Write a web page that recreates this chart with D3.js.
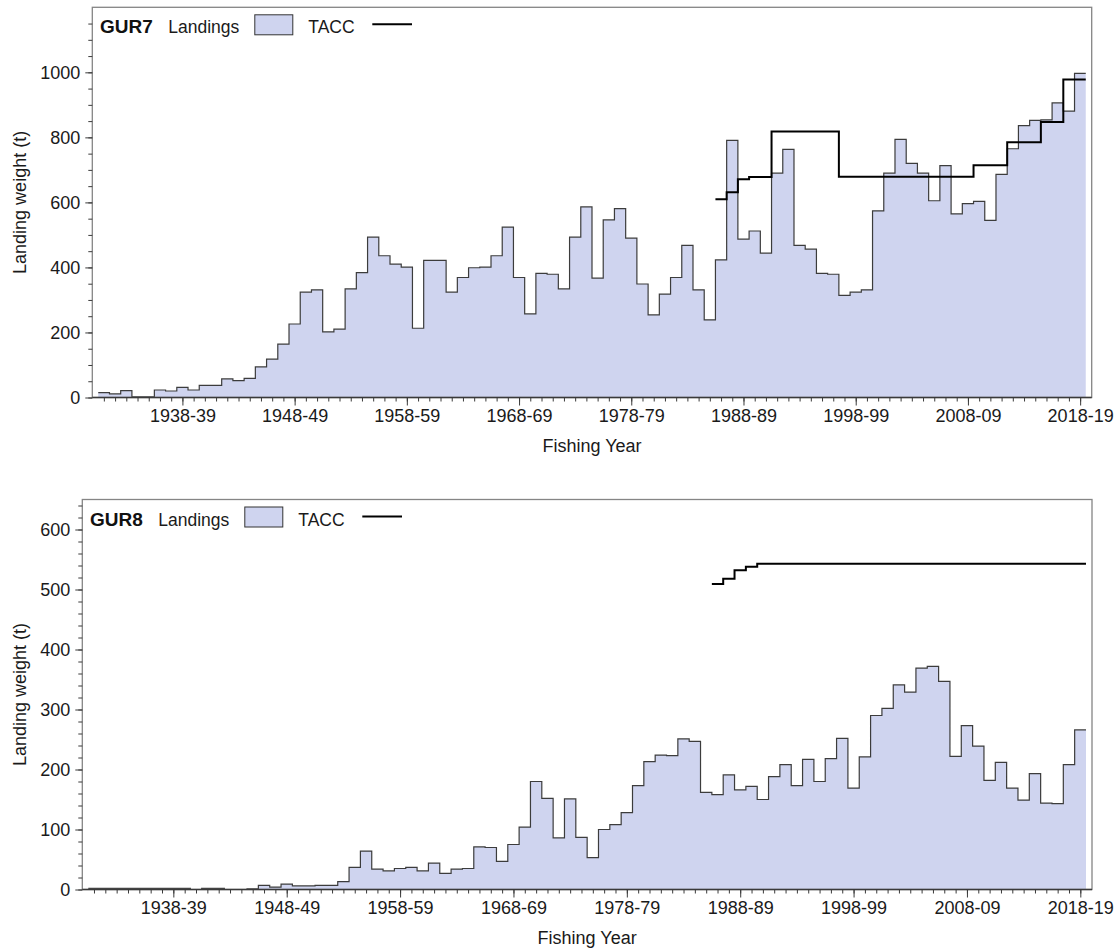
<!DOCTYPE html>
<html><head><meta charset="utf-8">
<script src="https://cdn.jsdelivr.net/npm/d3@7"></script>
<style>
body{margin:0;background:#fff;}
svg{display:block;font-family:"Liberation Sans",Arial,sans-serif;}
</style></head><body>
<svg id="chart" width="1117" height="949"></svg>
<script>
// ---------------- DATA ----------------
const fishingYears = [
"1931-32","1932-33","1933-34","1934-35","1935-36","1936-37","1937-38","1938-39","1939-40","1940-41",
"1941-42","1942-43","1943-44","1944-45","1945-46","1946-47","1947-48","1948-49","1949-50","1950-51",
"1951-52","1952-53","1953-54","1954-55","1955-56","1956-57","1957-58","1958-59","1959-60","1960-61",
"1961-62","1962-63","1963-64","1964-65","1965-66","1966-67","1967-68","1968-69","1969-70","1970-71",
"1971-72","1972-73","1973-74","1974-75","1975-76","1976-77","1977-78","1978-79","1979-80","1980-81",
"1981-82","1982-83","1983-84","1984-85","1985-86","1986-87","1987-88","1988-89","1989-90","1990-91",
"1991-92","1992-93","1993-94","1994-95","1995-96","1996-97","1997-98","1998-99","1999-00","2000-01",
"2001-02","2002-03","2003-04","2004-05","2005-06","2006-07","2007-08","2008-09","2009-10","2010-11",
"2011-12","2012-13","2013-14","2014-15","2015-16","2016-17","2017-18","2018-19"];

const gur7Landings = [
15, 11, 21, 2, 2, 23, 20, 31, 23, 37,
37, 57, 52, 59, 94, 118, 164, 226, 324, 331,
202, 210, 334, 384, 493, 436, 410, 401, 213, 422,
422, 324, 369, 399, 401, 436, 524, 369, 257, 382,
379, 334, 493, 586, 367, 546, 581, 490, 349, 254,
318, 369, 468, 331, 239, 423, 791, 487, 512, 444,
690, 763, 468, 456, 382, 379, 314, 324, 331, 574,
690, 794, 720, 690, 605, 713, 565, 596, 603, 545,
686, 765, 836, 852, 854, 906, 881, 997];

const gur8Landings = [
2, 2, 2, 2, 2, 2, 2, 2, 2, 0,
2, 2, 0, 0, 1, 7, 4, 9, 6, 6,
7, 7, 13, 37, 64, 34, 31, 35, 37, 31,
44, 27, 34, 35, 71, 70, 47, 75, 104, 180,
152, 86, 151, 87, 53, 100, 108, 128, 173, 213,
224, 223, 251, 247, 162, 158, 191, 166, 172, 150,
188, 208, 173, 217, 180, 218, 252, 169, 221, 290,
302, 341, 329, 369, 372, 347, 222, 273, 239, 182,
212, 169, 149, 193, 144, 143, 208, 266];

const taccYears = [
"1986-87","1987-88","1988-89","1989-90","1990-91","1991-92","1992-93","1993-94","1994-95","1995-96",
"1996-97","1997-98","1998-99","1999-00","2000-01","2001-02","2002-03","2003-04","2004-05","2005-06",
"2006-07","2007-08","2008-09","2009-10","2010-11","2011-12","2012-13","2013-14","2014-15","2015-16",
"2016-17","2017-18","2018-19"];

const gur7Tacc = [
610, 631, 671, 678, 678, 818, 818, 818, 818, 818,
818, 679, 679, 679, 679, 679, 679, 679, 679, 679,
679, 679, 679, 714, 714, 714, 785, 785, 785, 847,
847, 978, 978];

const gur8Tacc = [
509, 518, 532, 538, 543, 543, 543, 543, 543, 543,
543, 543, 543, 543, 543, 543, 543, 543, 543, 543,
543, 543, 543, 543, 543, 543, 543, 543, 543, 543,
543, 543, 543];

const xTickLabels = ["1938-39","1948-49","1958-59","1968-69","1978-79","1988-89","1998-99","2008-09","2018-19"];
const gur7YTicks = [0, 200, 400, 600, 800, 1000];
const gur8YTicks = [0, 100, 200, 300, 400, 500, 600];

// ---------------- LAYOUT ----------------
const svg = d3.select("#chart");
svg.append("rect").attr("width", 1117).attr("height", 949).attr("fill", "#fff");

const FILL = "#cfd4ef";
const startYear = s => +s.slice(0, 4);

const panels = [
  {name: "GUR7", landings: gur7Landings, tacc: gur7Tacc, yTicks: gur7YTicks,
   yMax: 1200, minorStep: 50, left: 92.3, right: 1091.7, top: 7.3, bottom: 397.5},
  {name: "GUR8", landings: gur8Landings, tacc: gur8Tacc, yTicks: gur8YTicks,
   yMax: 650, minorStep: 20, left: 82.3, right: 1092, top: 499.5, bottom: 889.5}
];

panels.forEach(p => {
  const g = svg.append("g");
  const x = d3.scaleLinear().domain([1930.47, 2019.53]).range([p.left, p.right]);
  const y = d3.scaleLinear().domain([0, p.yMax]).range([p.bottom, p.top]);

  const pts = fishingYears.map((fy, i) => ({x0: startYear(fy), v: p.landings[i]}));
  pts.push({x0: pts[pts.length - 1].x0 + 1, v: pts[pts.length - 1].v});

  const area = d3.area().curve(d3.curveStepAfter)
    .x(d => x(d.x0)).y0(y(0)).y1(d => y(d.v));
  const line = d3.line().curve(d3.curveStepAfter)
    .x(d => x(d.x0)).y(d => y(d.v));

  g.append("path").datum(pts).attr("d", area).attr("fill", FILL);
  g.append("path").datum(pts).attr("d", line)
    .attr("fill", "none").attr("stroke", "#3c3c3c").attr("stroke-width", 1.2);

  const tpts = taccYears.map((fy, i) => ({x0: startYear(fy), v: p.tacc[i]}));
  tpts.push({x0: tpts[tpts.length - 1].x0 + 1, v: tpts[tpts.length - 1].v});
  g.append("path").datum(tpts).attr("d", line)
    .attr("fill", "none").attr("stroke", "#000").attr("stroke-width", 2);

  // frame
  g.append("rect").attr("x", p.left).attr("y", p.top)
    .attr("width", p.right - p.left).attr("height", p.bottom - p.top)
    .attr("fill", "none").attr("stroke", "#858585").attr("stroke-width", 1.3);
  g.append("line").attr("x1", p.left).attr("x2", p.right)
    .attr("y1", p.bottom).attr("y2", p.bottom)
    .attr("stroke", "#3a3a3a").attr("stroke-width", 1.3);

  // x axis minor
  const xMinor = d3.axisBottom(x)
    .tickValues(fishingYears.map(fy => startYear(fy) + 0.5))
    .tickSize(4).tickFormat("");
  const gxm = g.append("g").attr("transform", `translate(0,${p.bottom})`).call(xMinor);
  gxm.select(".domain").remove();
  gxm.selectAll("line").attr("stroke", "#3a3a3a");

  const xMajor = d3.axisBottom(x)
    .tickValues(xTickLabels.map(l => startYear(l) + 0.5))
    .tickSize(8).tickFormat((d, i) => xTickLabels[i]);
  const gx = g.append("g").attr("transform", `translate(0,${p.bottom})`).call(xMajor);
  gx.select(".domain").remove();
  gx.selectAll("line").attr("stroke", "#3a3a3a");
  gx.selectAll("text").attr("y", 12).attr("dy", "0.71em")
    .attr("font-size", 18).attr("fill", "#1a1a1a")
    .attr("font-family", "Liberation Sans, Arial, sans-serif");

  // y axis
  const yMinor = d3.axisLeft(y).tickValues(d3.range(0, p.yMax, p.minorStep))
    .tickSize(4).tickFormat("");
  const gym = g.append("g").attr("transform", `translate(${p.left},0)`).call(yMinor);
  gym.select(".domain").remove();
  gym.selectAll("line").attr("stroke", "#3a3a3a");

  const yMajor = d3.axisLeft(y).tickValues(p.yTicks).tickSize(7).tickPadding(5)
    .tickFormat(d3.format("d"));
  const gy = g.append("g").attr("transform", `translate(${p.left},0)`).call(yMajor);
  gy.select(".domain").remove();
  gy.selectAll("line").attr("stroke", "#3a3a3a");
  gy.selectAll("text").attr("font-size", 18).attr("fill", "#1a1a1a").attr("dy", "0.34em")
    .attr("font-family", "Liberation Sans, Arial, sans-serif");

  // axis titles
  g.append("text").attr("x", (p.left + p.right) / 2).attr("y", p.bottom + 54)
    .attr("text-anchor", "middle").attr("font-size", 18).attr("fill", "#1a1a1a")
    .text("Fishing Year");
  g.append("text")
    .attr("transform", `translate(26,${(p.top + p.bottom) / 2}) rotate(-90)`)
    .attr("text-anchor", "middle").attr("font-size", 18).attr("fill", "#1a1a1a")
    .text("Landing weight (t)");

  // legend
  const ly = p.top + 26;
  g.append("text").attr("x", p.left + 7.7).attr("y", ly)
    .attr("font-size", 19).attr("font-weight", "bold").attr("fill", "#111").text(p.name);
  g.append("text").attr("x", p.left + 76).attr("y", ly)
    .attr("font-size", 17.5).attr("fill", "#1a1a1a").text("Landings");
  g.append("rect").attr("x", p.left + 162.5).attr("y", p.top + 7.5)
    .attr("width", 38).attr("height", 20)
    .attr("fill", FILL).attr("stroke", "#333").attr("stroke-width", 1);
  g.append("text").attr("x", p.left + 216).attr("y", ly)
    .attr("font-size", 17.5).attr("fill", "#1a1a1a").text("TACC");
  g.append("line").attr("x1", p.left + 280).attr("x2", p.left + 319.7)
    .attr("y1", p.top + 17).attr("y2", p.top + 17)
    .attr("stroke", "#000").attr("stroke-width", 2);
});
</script>
</body></html>
